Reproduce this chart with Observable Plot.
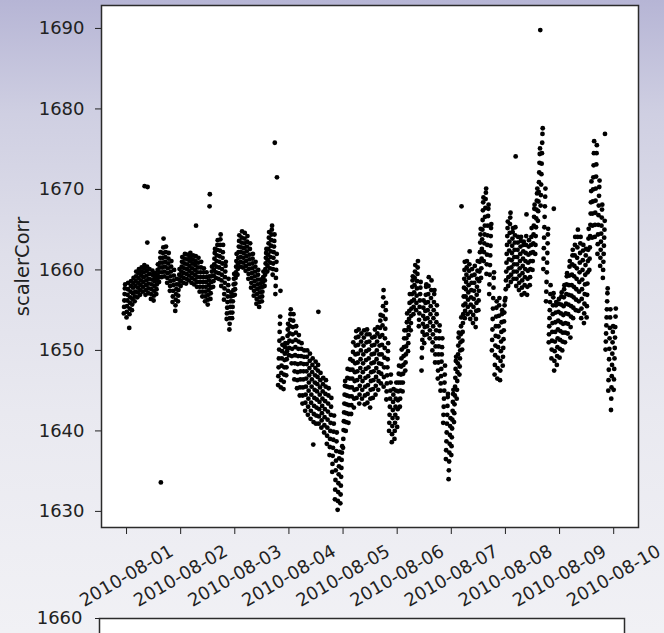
<!DOCTYPE html>
<html>
<head>
<meta charset="utf-8">
<script src="https://cdn.jsdelivr.net/npm/d3@7"></script>
<script src="https://cdn.jsdelivr.net/npm/@observablehq/plot@0.6"></script>
<style>
  html, body { margin: 0; padding: 0; }
  body {
    width: 664px; height: 633px; overflow: hidden; position: relative;
    background: linear-gradient(to bottom, #b6b5d5 0%, #cfcfe2 18%, #dfdfea 40%, #e9e9f0 65%, #f1f1f5 100%);
    font-family: "DejaVu Sans", sans-serif;
  }
  #main, #lower { position: absolute; left: 12px; }
  #main { top: 0; }
  #lower { top: 600px; }
  svg { max-width: none !important; }
</style>
</head>
<body>
<div id="main"></div>
<div id="lower"></div>
<script>
// scalerCorr readings, one row per 1.2 h block: [start hour, consecutive readings ...]
const jul31 = [
  [22.8, 1654.6, 1655.4, 1656.2, 1657.0, 1657.7, 1658.2]
];
const aug01 = [
  [0.0, 1654.1, 1654.8, 1655.5, 1656.2, 1656.9, 1657.6, 1658.4],
  [1.2, 1652.8, 1654.5, 1655.2, 1655.9, 1656.6, 1657.3, 1658.0, 1658.6],
  [2.4, 1655.0, 1655.7, 1656.4, 1657.1, 1657.8, 1658.4, 1659.0],
  [3.6, 1656.1, 1656.7, 1657.3, 1658.0, 1658.6, 1659.2, 1659.8],
  [4.8, 1656.6, 1657.2, 1657.8, 1658.4, 1659.0, 1659.6, 1660.1],
  [6.0, 1656.9, 1657.5, 1658.1, 1658.7, 1659.3, 1659.8, 1660.3],
  [7.2, 1657.3, 1657.9, 1658.5, 1659.1, 1659.7, 1660.2, 1660.6, 1670.4],
  [8.4, 1656.9, 1657.5, 1658.1, 1658.7, 1659.3, 1659.9, 1660.4, 1663.4, 1670.3],
  [9.6, 1657.1, 1657.7, 1658.3, 1658.9, 1659.5, 1660.1],
  [10.8, 1656.4, 1657.0, 1657.6, 1658.2, 1658.8, 1659.4, 1659.9],
  [12.0, 1656.2, 1656.8, 1657.4, 1658.0, 1658.6, 1659.1, 1659.6],
  [13.2, 1657.0, 1657.6, 1658.2, 1658.8, 1659.4, 1660.0, 1660.7],
  [14.4, 1658.5, 1659.1, 1659.7, 1660.3, 1660.9, 1661.5, 1662.2, 1633.6],
  [15.6, 1659.1, 1659.7, 1660.3, 1660.9, 1661.5, 1662.1, 1662.8, 1663.9],
  [16.8, 1659.2, 1659.8, 1660.4, 1661.0, 1661.6, 1662.2, 1662.9],
  [18.0, 1658.4, 1659.0, 1659.6, 1660.2, 1660.8, 1661.4, 1662.1],
  [19.2, 1657.4, 1658.0, 1658.6, 1659.2, 1659.8, 1660.4, 1661.1],
  [20.4, 1656.0, 1656.7, 1657.4, 1658.1, 1658.7, 1659.3, 1660.0],
  [21.6, 1654.9, 1655.6, 1656.3, 1657.0, 1657.6, 1658.2, 1658.9],
  [22.8, 1656.1, 1656.8, 1657.5, 1658.2, 1658.8, 1659.4, 1660.1]
];
const aug02 = [
  [0.0, 1658.0, 1658.6, 1659.2, 1659.8, 1660.4, 1661.0, 1661.6],
  [1.2, 1658.4, 1659.0, 1659.6, 1660.2, 1660.8, 1661.4, 1662.0],
  [2.4, 1658.3, 1658.9, 1659.5, 1660.1, 1660.7, 1661.3, 1661.9],
  [3.6, 1658.7, 1659.3, 1659.9, 1660.5, 1661.1, 1661.6, 1662.1],
  [4.8, 1658.4, 1659.0, 1659.6, 1660.2, 1660.8, 1661.3, 1661.8],
  [6.0, 1658.2, 1658.8, 1659.4, 1660.0, 1660.6, 1661.1, 1661.7, 1665.5],
  [7.2, 1657.9, 1658.5, 1659.1, 1659.7, 1660.3, 1660.9, 1661.5],
  [8.4, 1657.3, 1657.9, 1658.5, 1659.1, 1659.7, 1660.3, 1661.0],
  [9.6, 1656.7, 1657.3, 1657.9, 1658.5, 1659.1, 1659.7, 1660.2],
  [10.8, 1656.1, 1656.7, 1657.3, 1657.9, 1658.5, 1659.1, 1659.7],
  [12.0, 1655.7, 1656.3, 1656.9, 1657.5, 1658.1, 1658.7, 1659.2, 1667.9, 1669.4],
  [13.2, 1656.4, 1657.1, 1657.8, 1658.5, 1659.2, 1659.8, 1660.4],
  [14.4, 1657.9, 1658.6, 1659.3, 1660.0, 1660.7, 1661.4, 1662.1, 1662.6],
  [15.6, 1659.0, 1659.7, 1660.4, 1661.1, 1661.8, 1662.5, 1663.1, 1663.7],
  [16.8, 1658.9, 1659.6, 1660.3, 1661.0, 1661.7, 1662.4, 1663.1, 1663.8, 1664.4],
  [18.0, 1658.0, 1658.7, 1659.4, 1660.1, 1660.8, 1661.5, 1662.2, 1663.1],
  [19.2, 1656.3, 1657.0, 1657.7, 1658.4, 1659.1, 1659.8, 1660.5, 1661.0],
  [20.4, 1653.9, 1654.6, 1655.3, 1656.0, 1656.7, 1657.4, 1658.1, 1658.9],
  [21.6, 1652.6, 1653.3, 1654.0, 1654.7, 1655.4, 1656.1, 1656.7, 1657.2],
  [22.8, 1654.0, 1654.7, 1655.4, 1656.1, 1656.8, 1657.5, 1658.2, 1658.9, 1659.5]
];
const aug03 = [
  [0.0, 1656.9, 1657.6, 1658.3, 1659.0, 1659.7, 1660.4, 1661.1, 1662.0],
  [1.2, 1659.4, 1660.1, 1660.8, 1661.5, 1662.2, 1662.9, 1663.6, 1664.3],
  [2.4, 1660.4, 1661.0, 1661.6, 1662.2, 1662.8, 1663.4, 1664.0, 1664.8],
  [3.6, 1660.3, 1660.9, 1661.5, 1662.1, 1662.7, 1663.3, 1663.9, 1664.6],
  [4.8, 1659.9, 1660.5, 1661.1, 1661.7, 1662.3, 1662.9, 1663.5, 1664.2],
  [6.0, 1658.9, 1659.5, 1660.1, 1660.7, 1661.3, 1661.9, 1662.6, 1663.3],
  [7.2, 1657.8, 1658.4, 1659.0, 1659.6, 1660.2, 1660.8, 1661.4, 1662.0],
  [8.4, 1656.8, 1657.4, 1658.0, 1658.6, 1659.2, 1659.8, 1660.4, 1661.0],
  [9.6, 1655.8, 1656.4, 1657.0, 1657.6, 1658.2, 1658.8, 1659.4, 1660.0],
  [10.8, 1655.4, 1656.0, 1656.6, 1657.2, 1657.8, 1658.3, 1658.8],
  [12.0, 1656.1, 1656.7, 1657.3, 1657.9, 1658.5, 1659.1, 1659.8],
  [13.2, 1658.0, 1658.7, 1659.4, 1660.1, 1660.8, 1661.5, 1662.1, 1662.6],
  [14.4, 1659.8, 1660.5, 1661.2, 1661.9, 1662.6, 1663.3, 1664.0, 1664.7],
  [15.6, 1660.2, 1660.9, 1661.6, 1662.3, 1663.0, 1663.7, 1664.4, 1665.0, 1665.5],
  [16.8, 1659.4, 1660.1, 1660.8, 1661.5, 1662.2, 1662.9, 1663.6, 1664.4, 1675.8],
  [18.0, 1657.0, 1658.0, 1659.0, 1660.0, 1661.0, 1662.0, 1671.5],
  [19.2, 1645.7, 1646.8, 1647.9, 1649.0, 1650.1, 1651.2, 1652.3, 1653.3, 1654.2, 1657.4],
  [20.4, 1645.4, 1646.3, 1647.2, 1648.1, 1649.0, 1649.9, 1650.7, 1651.5],
  [21.6, 1645.2, 1646.1, 1647.0, 1647.9, 1648.8, 1649.6, 1650.4, 1650.9],
  [22.8, 1646.9, 1647.9, 1648.9, 1649.9, 1650.9, 1651.8, 1652.6, 1653.3]
];
const aug04 = [
  [0.0, 1649.4, 1650.3, 1651.2, 1652.1, 1653.0, 1653.8, 1654.5, 1655.1],
  [1.2, 1648.4, 1649.3, 1650.2, 1651.1, 1652.0, 1652.9, 1653.7, 1654.5],
  [2.4, 1646.4, 1647.4, 1648.4, 1649.4, 1650.4, 1651.3, 1652.2, 1653.0],
  [3.6, 1645.3, 1646.3, 1647.3, 1648.3, 1649.3, 1650.2, 1651.1, 1651.9],
  [4.8, 1644.4, 1645.4, 1646.4, 1647.4, 1648.4, 1649.3, 1650.2, 1650.9],
  [6.0, 1643.4, 1644.4, 1645.4, 1646.4, 1647.4, 1648.3, 1649.2, 1650.0],
  [7.2, 1642.5, 1643.5, 1644.5, 1645.5, 1646.5, 1647.4, 1648.3, 1649.2, 1650.0],
  [8.4, 1642.0, 1643.0, 1644.0, 1645.0, 1646.0, 1646.9, 1647.8, 1648.7, 1649.6],
  [9.6, 1641.5, 1642.5, 1643.5, 1644.5, 1645.5, 1646.4, 1647.3, 1648.2, 1649.0],
  [10.8, 1638.3, 1641.1, 1642.1, 1643.1, 1644.1, 1645.1, 1646.0, 1646.9, 1647.8, 1648.6],
  [12.0, 1640.9, 1641.9, 1642.9, 1643.9, 1644.9, 1645.8, 1646.7, 1647.5, 1648.2, 1654.8],
  [13.2, 1640.9, 1641.8, 1642.7, 1643.6, 1644.5, 1645.4, 1646.3, 1647.2],
  [14.4, 1640.4, 1641.3, 1642.2, 1643.1, 1644.0, 1644.9, 1645.8, 1646.6],
  [15.6, 1639.8, 1640.7, 1641.7, 1642.7, 1643.7, 1644.6, 1645.5, 1646.3],
  [16.8, 1638.4, 1639.4, 1640.4, 1641.4, 1642.4, 1643.4, 1644.4, 1645.3],
  [18.0, 1637.0, 1638.0, 1639.0, 1640.0, 1641.0, 1642.0, 1643.0, 1644.1],
  [19.2, 1634.9, 1635.9, 1636.9, 1637.9, 1638.9, 1639.9, 1640.9, 1641.9],
  [20.4, 1631.5, 1632.7, 1633.9, 1635.1, 1636.3, 1637.5, 1638.7, 1639.8],
  [21.6, 1630.2, 1631.3, 1632.4, 1633.5, 1634.6, 1635.6, 1636.6, 1637.4],
  [22.8, 1631.0, 1632.1, 1633.2, 1634.3, 1635.4, 1636.4, 1637.3, 1638.1]
];
const aug05 = [
  [0.0, 1637.9, 1639.0, 1640.1, 1641.2, 1642.3, 1643.4, 1644.5, 1645.6, 1646.2],
  [1.2, 1640.0, 1641.1, 1642.2, 1643.3, 1644.4, 1645.5, 1646.6, 1647.7],
  [2.4, 1641.0, 1642.1, 1643.2, 1644.3, 1645.4, 1646.5, 1647.6, 1648.9],
  [3.6, 1642.1, 1643.2, 1644.3, 1645.4, 1646.5, 1647.6, 1648.7, 1649.8, 1651.0],
  [4.8, 1642.9, 1644.0, 1645.1, 1646.2, 1647.3, 1648.4, 1649.5, 1650.6, 1651.6, 1652.4],
  [6.0, 1644.1, 1645.2, 1646.3, 1647.4, 1648.5, 1649.6, 1650.7, 1651.7, 1652.6],
  [7.2, 1643.4, 1644.5, 1645.6, 1646.7, 1647.8, 1648.9, 1650.0, 1651.1, 1652.1],
  [8.4, 1644.0, 1645.1, 1646.2, 1647.3, 1648.4, 1649.5, 1650.6, 1651.6, 1652.5],
  [9.6, 1643.3, 1644.4, 1645.5, 1646.6, 1647.7, 1648.8, 1649.9, 1651.0, 1652.0, 1652.6],
  [10.8, 1643.5, 1644.6, 1645.7, 1646.8, 1647.9, 1649.0, 1650.1, 1651.1, 1652.0],
  [12.0, 1642.9, 1644.0, 1645.1, 1646.2, 1647.3, 1648.4, 1649.5, 1650.6, 1651.6],
  [13.2, 1644.1, 1645.2, 1646.3, 1647.4, 1648.5, 1649.6, 1650.7, 1651.7, 1652.6],
  [14.4, 1644.5, 1645.6, 1646.7, 1647.8, 1648.9, 1650.0, 1651.1, 1652.1, 1652.9],
  [15.6, 1645.1, 1646.2, 1647.3, 1648.4, 1649.5, 1650.6, 1651.7, 1652.8, 1653.7, 1654.4],
  [16.8, 1645.9, 1647.1, 1648.3, 1649.5, 1650.7, 1651.9, 1653.1, 1654.3, 1655.5, 1656.6, 1657.5],
  [18.0, 1645.5, 1646.7, 1647.9, 1649.1, 1650.3, 1651.5, 1652.7, 1653.9, 1655.0, 1655.9],
  [19.2, 1643.9, 1644.9, 1645.9, 1646.9, 1647.9, 1648.9, 1649.9, 1650.9],
  [20.4, 1640.0, 1641.0, 1642.0, 1643.0, 1644.0, 1645.0, 1646.0, 1647.0],
  [21.6, 1638.6, 1639.6, 1640.6, 1641.6, 1642.6, 1643.6, 1644.5, 1645.2],
  [22.8, 1639.0, 1640.0, 1641.0, 1642.0, 1643.0, 1644.0, 1645.0, 1646.0]
];
const aug06 = [
  [0.0, 1640.5, 1641.6, 1642.7, 1643.8, 1644.9, 1646.0, 1647.1, 1648.1],
  [1.2, 1643.0, 1644.0, 1645.0, 1646.0, 1647.0, 1648.0, 1649.0, 1650.1],
  [2.4, 1644.9, 1646.0, 1647.1, 1648.2, 1649.3, 1650.4, 1651.5, 1652.5],
  [3.6, 1647.5, 1648.5, 1649.5, 1650.5, 1651.5, 1652.5, 1653.5, 1654.6],
  [4.8, 1649.9, 1650.9, 1651.9, 1652.9, 1653.9, 1654.9, 1655.9, 1657.0],
  [6.0, 1652.5, 1653.4, 1654.3, 1655.2, 1656.1, 1657.0, 1657.9, 1658.7, 1659.2],
  [7.2, 1654.5, 1655.4, 1656.3, 1657.2, 1658.1, 1659.0, 1659.8, 1660.6],
  [8.4, 1655.0, 1655.9, 1656.8, 1657.7, 1658.6, 1659.5, 1660.3, 1661.1],
  [9.6, 1653.0, 1653.8, 1654.6, 1655.4, 1656.2, 1657.0, 1657.8, 1658.5],
  [10.8, 1647.5, 1649.1, 1650.3, 1651.3, 1652.3, 1653.3, 1654.3, 1655.3, 1656.2],
  [12.0, 1650.9, 1651.9, 1652.9, 1653.9, 1654.9, 1655.9, 1656.9, 1657.9, 1658.2],
  [13.2, 1652.0, 1653.0, 1654.0, 1655.0, 1656.0, 1657.0, 1658.0, 1659.1],
  [14.4, 1651.5, 1652.5, 1653.5, 1654.5, 1655.5, 1656.5, 1657.5, 1658.7],
  [15.6, 1650.0, 1651.0, 1652.0, 1653.0, 1654.0, 1655.0, 1656.0, 1657.0, 1657.5],
  [16.8, 1648.5, 1649.5, 1650.5, 1651.5, 1652.5, 1653.5, 1654.5, 1655.6],
  [18.0, 1646.5, 1647.5, 1648.5, 1649.5, 1650.5, 1651.5, 1652.4, 1653.1],
  [19.2, 1645.0, 1645.9, 1646.8, 1647.7, 1648.6, 1649.5, 1650.4, 1651.5],
  [20.4, 1641.0, 1642.0, 1643.0, 1644.0, 1645.0, 1646.0, 1647.0, 1648.1],
  [21.6, 1636.5, 1637.6, 1638.7, 1639.8, 1640.9, 1642.0, 1643.1, 1644.2, 1644.6],
  [22.8, 1634.0, 1635.1, 1636.2, 1637.3, 1638.4, 1639.5, 1640.6, 1641.6]
];
const aug07 = [
  [0.0, 1637.0, 1638.1, 1639.2, 1640.3, 1641.4, 1642.5, 1643.6, 1644.6, 1645.1],
  [1.2, 1641.1, 1642.2, 1643.3, 1644.4, 1645.5, 1646.6, 1647.7, 1648.7, 1649.2],
  [2.4, 1644.0, 1645.1, 1646.2, 1647.3, 1648.4, 1649.5, 1650.6, 1651.6, 1652.2],
  [3.6, 1647.0, 1648.0, 1649.0, 1650.0, 1651.0, 1652.0, 1653.0, 1654.1, 1667.9],
  [4.8, 1650.1, 1651.2, 1652.3, 1653.4, 1654.5, 1655.6, 1656.7, 1657.8, 1658.9, 1660.0, 1661.0],
  [6.0, 1654.0, 1654.9, 1655.8, 1656.7, 1657.6, 1658.5, 1659.4, 1660.3, 1661.1],
  [7.2, 1654.5, 1655.4, 1656.3, 1657.2, 1658.1, 1659.0, 1659.9, 1660.7, 1662.3],
  [8.4, 1653.9, 1654.8, 1655.7, 1656.6, 1657.5, 1658.4, 1659.3, 1660.1],
  [9.6, 1653.4, 1654.4, 1655.4, 1656.4, 1657.4, 1658.4, 1659.4, 1660.5],
  [10.8, 1652.9, 1653.9, 1654.9, 1655.9, 1656.9, 1657.9, 1658.9, 1659.9, 1661.1],
  [12.0, 1655.0, 1656.2, 1657.4, 1658.6, 1659.8, 1661.0, 1662.2, 1663.4, 1664.4, 1665.1],
  [13.2, 1659.0, 1660.2, 1661.4, 1662.6, 1663.8, 1665.0, 1666.2, 1667.4, 1668.4, 1669.0],
  [14.4, 1661.1, 1662.2, 1663.3, 1664.4, 1665.5, 1666.6, 1667.7, 1668.8, 1669.6, 1670.1],
  [15.6, 1659.5, 1660.7, 1661.9, 1663.1, 1664.3, 1665.5, 1666.7, 1667.6, 1668.1],
  [16.8, 1657.0, 1658.2, 1659.4, 1660.6, 1661.8, 1663.0, 1664.2, 1665.2, 1665.7],
  [18.0, 1650.0, 1651.3, 1652.6, 1653.9, 1655.2, 1656.5, 1657.8, 1659.0, 1659.7],
  [19.2, 1647.0, 1648.2, 1649.4, 1650.6, 1651.8, 1653.0, 1654.2, 1655.3, 1656.1],
  [20.4, 1646.5, 1647.8, 1649.1, 1650.4, 1651.7, 1653.0, 1654.3, 1655.6, 1656.5],
  [21.6, 1646.3, 1647.5, 1648.7, 1649.9, 1651.1, 1652.3, 1653.5, 1654.5, 1655.0],
  [22.8, 1648.1, 1649.2, 1650.3, 1651.4, 1652.5, 1653.6, 1654.7, 1655.6, 1656.2]
];
const aug08 = [
  [0.0, 1656.5, 1657.6, 1658.7, 1659.8, 1660.9, 1662.0, 1663.1, 1664.2, 1665.2, 1666.0],
  [1.2, 1658.0, 1659.1, 1660.2, 1661.3, 1662.4, 1663.5, 1664.6, 1665.7, 1666.5, 1667.1],
  [2.4, 1658.5, 1659.4, 1660.3, 1661.2, 1662.1, 1663.0, 1663.9, 1664.7, 1665.2],
  [3.6, 1658.9, 1659.8, 1660.7, 1661.6, 1662.5, 1663.4, 1664.3, 1665.3, 1674.1],
  [4.8, 1658.0, 1658.9, 1659.8, 1660.7, 1661.6, 1662.5, 1663.4, 1664.1],
  [6.0, 1657.5, 1658.4, 1659.3, 1660.2, 1661.1, 1662.0, 1662.9, 1663.6, 1664.1],
  [7.2, 1656.9, 1657.8, 1658.7, 1659.6, 1660.5, 1661.4, 1662.3, 1663.1, 1663.5],
  [8.4, 1657.1, 1658.1, 1659.1, 1660.1, 1661.1, 1662.1, 1663.1, 1664.2, 1666.9],
  [9.6, 1656.9, 1657.9, 1658.9, 1659.9, 1660.9, 1661.9, 1662.9, 1663.7],
  [10.8, 1658.1, 1659.1, 1660.1, 1661.1, 1662.1, 1663.1, 1664.1, 1665.2],
  [12.0, 1660.0, 1661.1, 1662.2, 1663.3, 1664.4, 1665.5, 1666.6, 1667.6, 1668.1],
  [13.2, 1662.0, 1663.1, 1664.2, 1665.3, 1666.4, 1667.5, 1668.6, 1669.5, 1670.1],
  [14.4, 1666.1, 1667.3, 1668.5, 1669.7, 1670.9, 1672.1, 1673.3, 1674.4, 1675.1, 1689.8],
  [15.6, 1668.0, 1669.3, 1670.6, 1671.9, 1673.2, 1674.5, 1675.8, 1676.9, 1677.6],
  [16.8, 1660.1, 1661.4, 1662.7, 1664.0, 1665.3, 1666.6, 1667.9, 1669.1, 1670.1],
  [18.0, 1656.1, 1657.3, 1658.5, 1659.7, 1660.9, 1662.1, 1663.3, 1664.4, 1665.1],
  [19.2, 1651.0, 1652.0, 1653.0, 1654.0, 1655.0, 1656.0, 1657.0, 1658.1],
  [20.4, 1649.0, 1650.1, 1651.2, 1652.3, 1653.4, 1654.5, 1655.6, 1656.6, 1657.1, 1667.6],
  [21.6, 1647.5, 1648.7, 1649.9, 1651.1, 1652.3, 1653.5, 1654.7, 1655.6, 1656.0],
  [22.8, 1648.2, 1649.3, 1650.4, 1651.5, 1652.6, 1653.7, 1654.8, 1655.8, 1656.4]
];
const aug09 = [
  [0.0, 1649.1, 1650.2, 1651.3, 1652.4, 1653.5, 1654.6, 1655.7, 1656.7, 1657.2],
  [1.2, 1650.0, 1651.1, 1652.2, 1653.3, 1654.4, 1655.5, 1656.6, 1657.6, 1658.1],
  [2.4, 1651.0, 1652.2, 1653.4, 1654.6, 1655.8, 1657.0, 1658.2, 1659.2, 1659.6],
  [3.6, 1652.1, 1653.3, 1654.5, 1655.7, 1656.9, 1658.1, 1659.3, 1660.4, 1661.1],
  [4.8, 1651.6, 1652.9, 1654.2, 1655.5, 1656.8, 1658.1, 1659.4, 1660.7, 1661.8, 1662.5],
  [6.0, 1654.0, 1655.3, 1656.6, 1657.9, 1659.2, 1660.5, 1661.8, 1663.1, 1664.1],
  [7.2, 1655.0, 1656.3, 1657.6, 1658.9, 1660.2, 1661.5, 1662.8, 1664.1, 1665.0],
  [8.4, 1654.9, 1656.1, 1657.3, 1658.5, 1659.7, 1660.9, 1662.1, 1663.3, 1664.1],
  [9.6, 1654.0, 1655.2, 1656.4, 1657.6, 1658.8, 1660.0, 1661.2, 1662.4, 1663.1],
  [10.8, 1653.4, 1654.6, 1655.8, 1657.0, 1658.2, 1659.4, 1660.6, 1661.8, 1662.6],
  [12.0, 1654.1, 1655.5, 1656.9, 1658.3, 1659.7, 1661.1, 1662.5, 1663.9, 1665.1],
  [13.2, 1660.0, 1661.4, 1662.8, 1664.2, 1665.6, 1667.0, 1668.4, 1669.8, 1671.0],
  [14.4, 1664.0, 1665.5, 1667.0, 1668.5, 1670.0, 1671.5, 1673.0, 1674.5, 1676.0],
  [15.6, 1664.1, 1665.6, 1667.1, 1668.6, 1670.1, 1671.6, 1673.1, 1674.5, 1675.5],
  [16.8, 1662.0, 1663.2, 1664.4, 1665.6, 1666.8, 1668.0, 1669.2, 1670.3, 1671.1],
  [18.0, 1660.5, 1661.5, 1662.5, 1663.5, 1664.5, 1665.5, 1666.5, 1667.5, 1668.1],
  [19.2, 1659.0, 1660.0, 1661.0, 1662.0, 1663.0, 1664.0, 1665.0, 1666.1, 1676.9],
  [20.4, 1650.1, 1651.1, 1652.1, 1653.1, 1654.1, 1655.1, 1656.1, 1657.1, 1657.7],
  [21.6, 1645.0, 1646.3, 1647.6, 1648.9, 1650.2, 1651.5, 1652.8, 1654.1, 1655.1],
  [22.8, 1642.6, 1644.0, 1645.4, 1646.8, 1648.2, 1649.6, 1651.0, 1652.3, 1653.0]
];
const aug10 = [
  [0.0, 1645.1, 1646.4, 1647.7, 1649.0, 1650.3, 1651.6, 1652.9, 1654.2, 1655.2]
];

const dayTickLabels = ["2010-08-01", "2010-08-02", "2010-08-03", "2010-08-04", "2010-08-05",
                       "2010-08-06", "2010-08-07", "2010-08-08", "2010-08-09", "2010-08-10"];
const yTicks = [1630, 1640, 1650, 1660, 1670, 1680, 1690];
const lowerTicks = [1660];

// flatten the day blocks into timestamped points (UTC), readings 7 min apart
const days = [[6, 31, jul31], [7, 1, aug01], [7, 2, aug02], [7, 3, aug03], [7, 4, aug04],
              [7, 5, aug05], [7, 6, aug06], [7, 7, aug07], [7, 8, aug08], [7, 9, aug09], [7, 10, aug10]];
const points = [];
for (const [month, day, rows] of days) {
  for (const [hour, ...vals] of rows) {
    vals.forEach((v, i) => {
      points.push({time: new Date(Date.UTC(2010, month, day) + (hour * 60 + i * 7) * 60000), value: v});
    });
  }
}
const dayTicks = dayTickLabels.map(s => new Date(s + "T00:00:00Z"));

const xDomain = [new Date(Date.UTC(2010, 6, 31, 12, 54)), new Date(Date.UTC(2010, 7, 10, 11, 0))];
const yDomain = [1628.0, 1692.85];
const plotHeight = 522;                       // frame height in px
const pxPerUnit = plotHeight / (yDomain[1] - yDomain[0]);
const labelY = yDomain[0] - 48.5 / pxPerUnit; // centre line of the rotated date labels
const style = {background: "transparent", fontFamily: "DejaVu Sans, sans-serif", fontSize: "18px", color: "#222"};

const main = Plot.plot({
  width: 652, height: 615,
  marginLeft: 89, marginRight: 26, marginTop: 5, marginBottom: 88,
  style,
  x: {type: "utc", domain: xDomain},
  y: {domain: yDomain},
  marks: [
    Plot.frame({fill: "white", stroke: null}),
    Plot.dot(points, {x: "time", y: "value", r: 2.4, fill: "black", stroke: null}),
    Plot.axisY({ticks: yTicks, tickSize: 6, tickPadding: 11, tickFormat: d => String(d), label: null}),
    Plot.axisX({ticks: dayTicks, tickSize: 7, tickFormat: () => "", label: null}),
    // date labels: rotated 30°, each centred under its tick
    Plot.text(dayTicks, {x: d => d, y: () => labelY, text: (d, i) => dayTickLabels[i],
      rotate: -30, textAnchor: "middle", lineAnchor: "middle", fontSize: 18, fill: "#222"}),
    Plot.text(["scalerCorr"], {frameAnchor: "left", dx: -72.5, rotate: -90, lineAnchor: "bottom",
      textAnchor: "middle", fontSize: 19.5, fill: "#222"}),
    Plot.frame({stroke: "#2b2b2b", strokeWidth: 1.5})
  ]
});
document.getElementById("main").append(main);

const lower = Plot.plot({
  width: 652, height: 330,
  marginLeft: 87, marginRight: 40, marginTop: 18, marginBottom: 30,
  style,
  y: {domain: [1630, 1660]},
  marks: [
    Plot.frame({fill: "white", stroke: null}),
    Plot.axisY({ticks: lowerTicks, tickSize: 4, tickPadding: 13, tickFormat: d => String(d), label: null}),
    Plot.frame({stroke: "#2b2b2b", strokeWidth: 1.5})
  ]
});
document.getElementById("lower").append(lower);
</script>
</body>
</html>
